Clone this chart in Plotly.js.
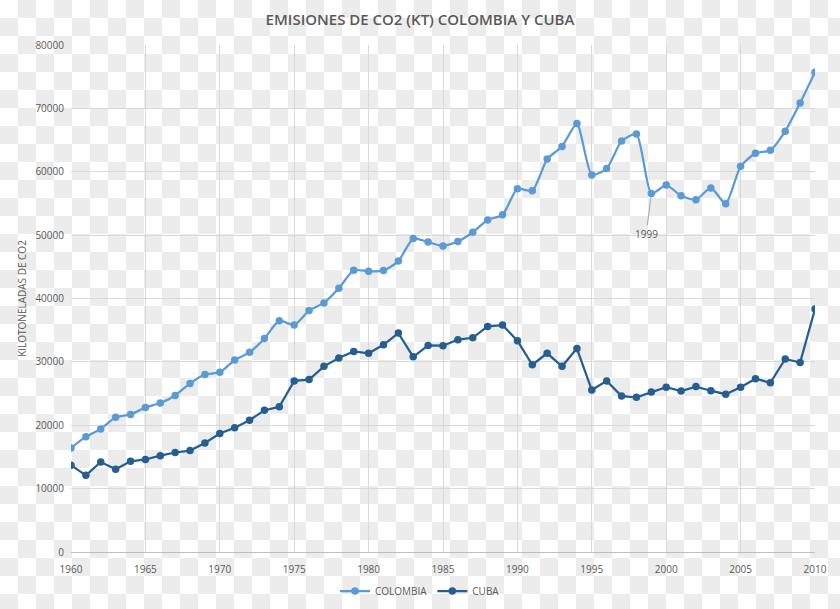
<!DOCTYPE html>
<html>
<head>
<meta charset="utf-8">
<script src="https://cdn.plot.ly/plotly-3.0.1.min.js"></script>
<style>
  html, body { margin: 0; padding: 0; }
  body {
    width: 840px; height: 609px; overflow: hidden;
    background-color: #ffffff;
    background-image:
      linear-gradient(45deg, #ececec 25%, transparent 25%, transparent 75%, #ececec 75%),
      linear-gradient(45deg, #ececec 25%, transparent 25%, transparent 75%, #ececec 75%);
    background-size: 36px 36px;
    background-position: 0 0, 18px 18px;
  }
  #chart { width: 840px; height: 609px; }
</style>
</head>
<body>
<div id="chart"></div>
<script>
const years = [1960,1961,1962,1963,1964,1965,1966,1967,1968,1969,
               1970,1971,1972,1973,1974,1975,1976,1977,1978,1979,
               1980,1981,1982,1983,1984,1985,1986,1987,1988,1989,
               1990,1991,1992,1993,1994,1995,1996,1997,1998,1999,
               2000,2001,2002,2003,2004,2005,2006,2007,2008,2009,2010];

const colombia = [16400,18200,19400,21250,21700,22800,23500,24700,26600,28000,
                  28350,30300,31500,33700,36500,35800,38100,39300,41600,44450,
                  44300,44400,45900,49450,48900,48300,49000,50450,52400,53200,
                  57300,57000,62000,64000,67600,59500,60500,64850,65950,56550,
                  57900,56200,55600,57450,54950,60850,62900,63400,66400,70850,75700];

const cuba = [13700,12100,14200,13050,14300,14600,15200,15700,16000,17200,
              18700,19600,20800,22350,22900,27000,27200,29300,30600,31650,
              31350,32700,34550,30800,32600,32550,33500,33800,35600,35800,
              33350,29550,31350,29300,32100,25550,27000,24600,24400,25250,
              26000,25400,26100,25450,24900,26000,27350,26700,30450,29900,38350];

const seriesNames = ['COLOMBIA', 'CUBA'];
const chartTitle = 'EMISIONES DE CO2 (KT) COLOMBIA Y CUBA';
const yTitle = 'KILOTONELADAS DE CO2';
const annotYear = 1999;

const labelColor = '#595959';
const gridColor = '#d9d9d9';

const traces = [
  {
    x: years, y: colombia, name: seriesNames[0], type: 'scatter', mode: 'lines+markers',
    line: { color: '#5B9BD5', width: 2.25, shape: 'spline', smoothing: 0.6 },
    marker: { color: '#5B9BD5', size: 7.5 },
    hoverinfo: 'skip'
  },
  {
    x: years, y: cuba, name: seriesNames[1], type: 'scatter', mode: 'lines+markers',
    line: { color: '#255E91', width: 2.25 },
    marker: { color: '#255E91', size: 7.5 },
    hoverinfo: 'skip'
  }
];

const layout = {
  width: 840, height: 609,
  paper_bgcolor: 'rgba(0,0,0,0)',
  plot_bgcolor: 'rgba(0,0,0,0)',
  margin: { l: 71, r: 25, t: 45, b: 57 },
  font: { family: 'Open Sans, sans-serif', color: labelColor, size: 10 },
  title: {
    text: chartTitle,
    font: { family: 'Open Sans, sans-serif', size: 15, color: labelColor, weight: 600 },
    x: 0.5, xref: 'container', xanchor: 'center',
    y: 1 - 20/609, yref: 'container', yanchor: 'middle'
  },
  xaxis: {
    range: [1960, 2010],
    tickvals: [1960,1965,1970,1975,1980,1985,1990,1995,2000,2005,2010],
    showgrid: true, gridcolor: gridColor, gridwidth: 1,
    showline: true, linecolor: '#bfbfbf', linewidth: 1,
    zeroline: false, ticks: '',
    ticklabelstandoff: 8,
    tickfont: { size: 10, color: labelColor },
    fixedrange: true
  },
  yaxis: {
    range: [0, 80000],
    dtick: 10000, tickformat: 'd',
    showgrid: true, gridcolor: gridColor, gridwidth: 1,
    showline: false, zeroline: false, ticks: '',
    ticklabelstandoff: 6,
    tickfont: { size: 10, color: labelColor },
    title: { text: yTitle, font: { size: 10, color: labelColor }, standoff: 6 },
    fixedrange: true
  },
  showlegend: true,
  legend: {
    orientation: 'h',
    xref: 'container', x: 0.5, xanchor: 'center',
    yref: 'container', y: 18/609, yanchor: 'middle',
    font: { size: 10, color: labelColor },
    bgcolor: 'rgba(0,0,0,0)',
    itemwidth: 30
  },
  annotations: [
    {
      x: annotYear, y: colombia[years.indexOf(annotYear)],
      xref: 'x', yref: 'y',
      text: String(annotYear),
      showarrow: true, arrowhead: 0, arrowwidth: 1, arrowcolor: '#a6a6a6',
      ax: -5, ay: 40, standoff: 4,
      font: { size: 10, color: labelColor }
    }
  ]
};

Plotly.newPlot('chart', traces, layout, { displayModeBar: false, staticPlot: true });
</script>
</body>
</html>
